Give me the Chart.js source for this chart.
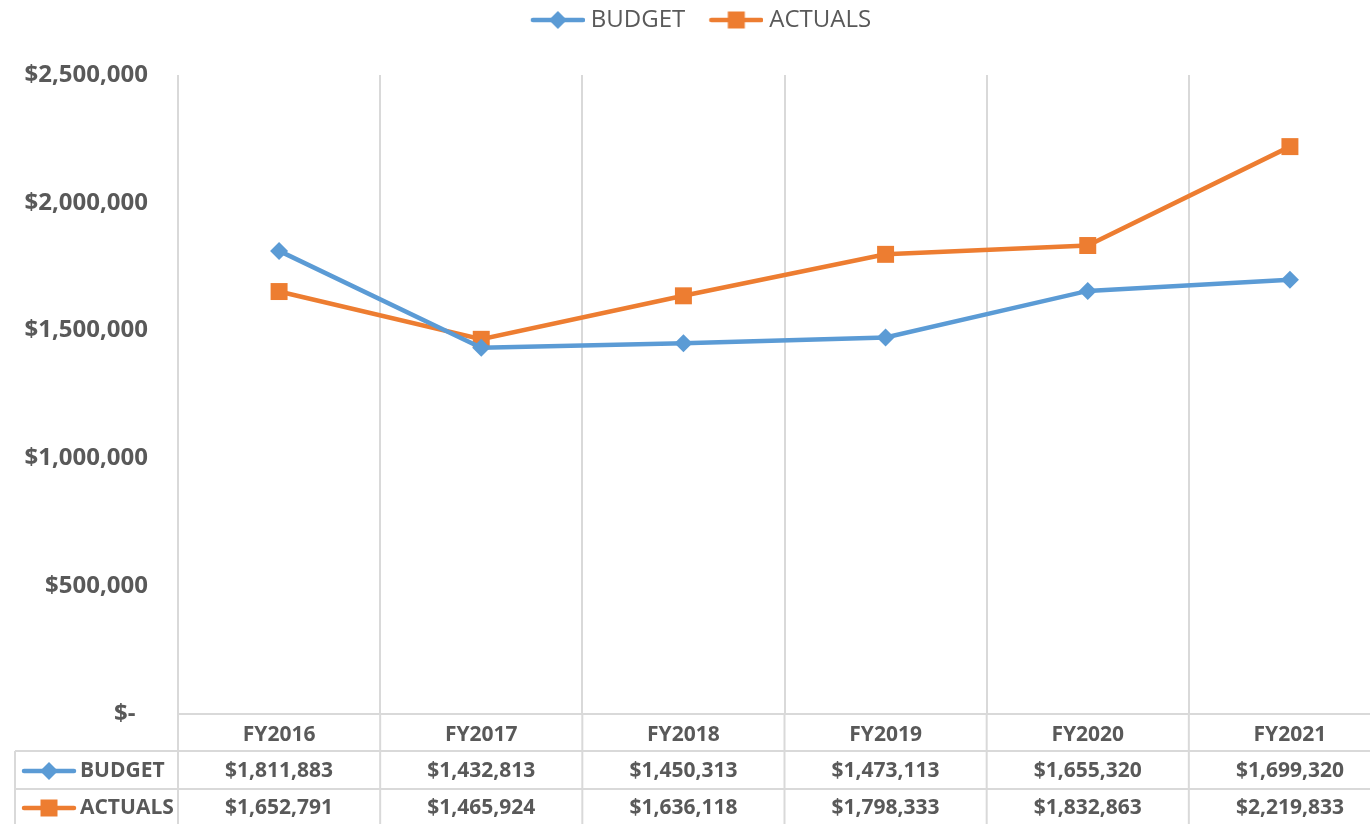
<!DOCTYPE html>
<html>
<head>
<meta charset="utf-8">
<script src="https://cdn.jsdelivr.net/npm/chart.js@4"></script>
<style>
  html, body { margin: 0; padding: 0; background: #fff; overflow: hidden; }
  #wrap { position: relative; width: 1403px; height: 824px; }
</style>
</head>
<body>
<div id="wrap"><canvas id="c" width="1403" height="824"></canvas></div>
<script>
const categories = ['FY2016', 'FY2017', 'FY2018', 'FY2019', 'FY2020', 'FY2021'];
const budget = [1811883, 1432813, 1450313, 1473113, 1655320, 1699320];
const actuals = [1652791, 1465924, 1636118, 1798333, 1832863, 2219833];
const seriesNames = ['BUDGET', 'ACTUALS'];

const BLUE = '#5B9BD5', ORANGE = '#ED7D31', TEXT = '#595959', GRID = '#d9d9d9';
const FONT = "'Open Sans', sans-serif";
const LEGEND_TOP = -14, PLOT_TOP = 75;

function money(v) {
  return v === 0 ? '$-  ' : '$' + Math.round(v).toLocaleString('en-US');
}

function drawSymbol(ctx, cx, cy, color, style) {
  ctx.save();
  ctx.strokeStyle = color; ctx.fillStyle = color; ctx.lineWidth = 4.5; ctx.lineCap = 'round';
  ctx.beginPath(); ctx.moveTo(cx - 25, cy); ctx.lineTo(cx + 25, cy); ctx.stroke();
  ctx.beginPath();
  if (style === 'diamond') {
    const r = 9;
    ctx.moveTo(cx - r, cy); ctx.lineTo(cx, cy - r); ctx.lineTo(cx + r, cy); ctx.lineTo(cx, cy + r);
  } else {
    const s = 8.5;
    ctx.rect(cx - s, cy - s, 2 * s, 2 * s);
  }
  ctx.closePath(); ctx.fill();
  ctx.restore();
}

function symbolCanvas(color, style) {
  const cv = document.createElement('canvas');
  cv.width = 62; cv.height = 22;
  drawSymbol(cv.getContext('2d'), 35, 11, color, style);
  return cv;
}
const symBudget = symbolCanvas(BLUE, 'diamond');
const symActuals = symbolCanvas(ORANGE, 'square');

// make the legend box fill the space above the plot area
const legendHeightPlugin = {
  id: 'legendHeight',
  beforeUpdate(chart) {
    const lg = chart.legend;
    if (lg && !lg._patched) {
      const orig = lg.fit;
      lg.fit = function () { orig.call(this); this.height = PLOT_TOP - LEGEND_TOP; };
      lg._patched = true;
    }
  }
};

const tablePlugin = {
  id: 'dataTable',
  afterDraw(chart) {
    const { ctx, chartArea } = chart;
    const x = chart.scales.x;
    const top = chartArea.bottom;
    const r1 = top + 37, r2 = top + 75, bottom = chart.height + 2;
    const colW = (chartArea.right - chartArea.left) / categories.length;
    ctx.save();
    ctx.strokeStyle = GRID; ctx.lineWidth = 2;
    const line = (x1, y1, x2, y2) => { ctx.beginPath(); ctx.moveTo(x1, y1); ctx.lineTo(x2, y2); ctx.stroke(); };
    line(15, r1, chartArea.right, r1);
    line(15, r2, chartArea.right, r2);
    line(15, r1, 15, bottom);
    for (let i = 0; i <= categories.length; i++) {
      const bx = chartArea.left + i * colW;
      line(bx, top, bx, bottom);
    }
    ctx.fillStyle = TEXT;
    ctx.font = "bold 21px " + FONT;
    ctx.textBaseline = 'middle';
    const rows = [
      { name: seriesNames[0], data: budget, sym: [BLUE, 'diamond'], y: r1 + 20 },
      { name: seriesNames[1], data: actuals, sym: [ORANGE, 'square'], y: r2 + 19 }
    ];
    rows.forEach(r => {
      drawSymbol(ctx, 49, r.y, r.sym[0], r.sym[1]);
      ctx.textAlign = 'left';
      ctx.fillStyle = TEXT;
      ctx.fillText(r.name, 80, r.y);
      ctx.textAlign = 'center';
      r.data.forEach((v, i) => ctx.fillText(money(v), x.getPixelForValue(i), r.y));
    });
    ctx.restore();
  }
};

new Chart(document.getElementById('c'), {
  type: 'line',
  data: {
    labels: categories,
    datasets: [
      {
        label: seriesNames[0], data: budget,
        borderColor: BLUE, backgroundColor: BLUE, borderWidth: 4.5,
        pointStyle: 'rectRot', pointRadius: 9, pointHoverRadius: 9, pointBorderWidth: 0,
        tension: 0
      },
      {
        label: seriesNames[1], data: actuals,
        borderColor: ORANGE, backgroundColor: ORANGE, borderWidth: 4.5,
        pointStyle: 'rect', pointRadius: 12, pointHoverRadius: 12, pointBorderWidth: 0,
        tension: 0
      }
    ]
  },
  options: {
    responsive: false,
    animation: false,
    layout: { padding: { top: LEGEND_TOP, right: 3, bottom: 0, left: 0 } },
    plugins: {
      tooltip: { enabled: false },
      legend: {
        position: 'top',
        labels: {
          usePointStyle: true,
          pointStyleWidth: 50,
          padding: 22,
          color: TEXT,
          font: { family: FONT, size: 24 },
          generateLabels(chart) {
            return chart.data.datasets.map((ds, i) => ({
              text: ds.label, pointStyle: i === 0 ? symBudget : symActuals,
              fillStyle: ds.borderColor, strokeStyle: ds.borderColor, lineWidth: 0,
              fontColor: TEXT, datasetIndex: i, hidden: false
            }));
          }
        }
      }
    },
    scales: {
      x: {
        offset: true,
        grid: { offset: true, color: GRID, lineWidth: 2, drawTicks: false },
        border: { display: true, color: GRID, width: 2 },
        ticks: { color: TEXT, font: { family: FONT, size: 21, weight: 'bold' }, padding: 8 },
        afterFit(scale) { scale.height = 110; }
      },
      y: {
        min: 0, max: 2500000,
        grid: { display: false, drawTicks: false },
        border: { display: false },
        ticks: {
          stepSize: 500000, color: TEXT, padding: 30,
          font: { family: FONT, size: 24, weight: 'bold' },
          callback: v => money(v)
        },
        afterFit(scale) { scale.width = 178; }
      }
    }
  },
  plugins: [legendHeightPlugin, tablePlugin]
});
</script>
</body>
</html>
